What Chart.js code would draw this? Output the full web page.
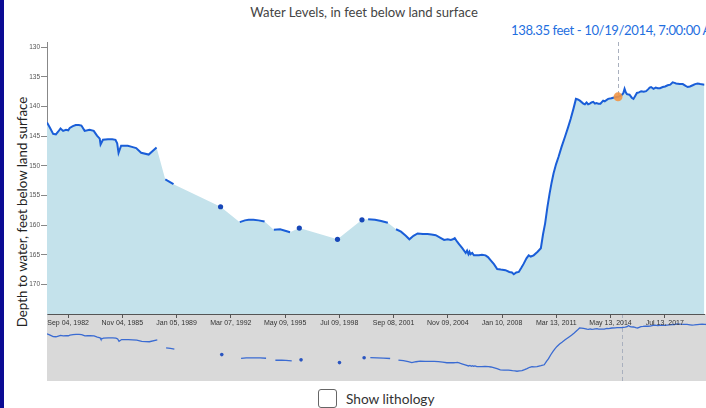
<!DOCTYPE html>
<html>
<head>
<meta charset="utf-8">
<script src="https://cdn.jsdelivr.net/npm/chart.js@4.4.1/dist/chart.umd.min.js"></script>
<style>
  html, body { margin: 0; padding: 0; width: 706px; height: 408px; overflow: hidden; background: #fff; }
  #wrap { position: relative; width: 706px; height: 408px; overflow: hidden; }
  #edge { position: absolute; left: 0; top: 0; width: 4px; height: 408px; background: #0b0b94; z-index: 5; }
  #title { position: absolute; left: 0; top: 4px; width: 728px; text-align: center; font: 13.1px Lato, sans-serif; color: #444; }
  #readout { position: absolute; left: 511px; top: 22px; white-space: nowrap; font: 13.1px Lato, sans-serif; letter-spacing: -0.4px; color: #1f6fe0; }
  #ytitle { position: absolute; left: -128px; top: 202px; width: 300px; text-align: center; font: 13.3px Lato, sans-serif; color: #222;
            transform: rotate(-90deg); transform-origin: 150px 10px; line-height: 20px; }
  #main { position: absolute; left: 0; top: 0; z-index: 2; }
  #nav { position: absolute; left: 0; top: 314px; z-index: 1; }
  #box { position: absolute; left: 318px; top: 389px; width: 17px; height: 17px; border: 1px solid #666; border-radius: 3px; background: #fff; }
  #lith { position: absolute; left: 346px; top: 390px; font: 13.7px Lato, sans-serif; color: #333; }
</style>
</head>
<body>
<div id="wrap">
  <div id="edge"></div>
  <div id="title">Water Levels, in feet below land surface</div>
  <div id="readout"></div>
  <div id="ytitle">Depth to water, feet below land surface</div>
  <canvas id="main" width="709" height="334"></canvas>
  <canvas id="nav" width="709" height="67"></canvas>
  <div id="box"></div>
  <div id="lith">Show lithology</div>
</div>
<script>
// decimal years and depths (feet below land surface); null = gap in record
const years = [
  1981.44, 1981.62, 1981.80, 1981.96, 1982.10, 1982.23, 1982.38, 1982.55, 1982.68, 1982.77,
  1982.95, 1983.12, 1983.30, 1983.45, 1983.64, 1983.80, 1983.93, 1984.17, 1984.36, 1984.52,
  1984.57, 1984.71, 1985.00, 1985.25, 1985.44, 1985.54, 1985.62, 1985.77, 1986.16, 1986.40,
  1986.65, 1986.94, 1987.38, 1987.84, 1988.10,
  1988.35, 1988.60, 1988.83, 1990.00,
  1991.58, 1992.00,
  1992.70, 1993.00, 1993.22, 1993.50, 1993.80, 1994.15, 1994.40,
  1994.69, 1995.06, 1995.30, 1995.64, 1995.90,
  1996.18, 1997.00,
  1998.41, 1999.00,
  1999.84, 2000.00,
  2000.20, 2000.60, 2000.96, 2001.35, 2001.60,
  2001.83, 2002.12, 2002.40, 2002.61, 2002.85, 2003.09, 2003.40, 2003.67, 2003.90, 2004.15,
  2004.40, 2004.64, 2004.85, 2005.03, 2005.15, 2005.26, 2005.40, 2005.51, 2005.70, 2005.90,
  2005.98, 2006.06, 2006.12, 2006.18, 2006.28, 2006.38, 2006.67, 2006.85, 2007.06, 2007.20,
  2007.35, 2007.55, 2007.74, 2007.95, 2008.22, 2008.45, 2008.60, 2008.71, 2008.85, 2009.00,
  2009.15, 2009.29, 2009.45, 2009.58, 2009.70, 2009.87, 2010.10, 2010.29, 2010.42, 2010.54,
  2010.67, 2010.80, 2010.92, 2011.03, 2011.18, 2011.32, 2011.50, 2011.71, 2011.87, 2012.03,
  2012.20, 2012.34, 2012.45, 2012.57, 2012.77, 2012.86, 2012.96, 2013.05, 2013.15, 2013.25,
  2013.35, 2013.45, 2013.54, 2013.65, 2013.77, 2013.93, 2014.02, 2014.22, 2014.41, 2014.51,
  2014.80, 2014.99, 2015.10, 2015.18, 2015.25, 2015.32, 2015.47, 2015.60, 2015.70, 2015.80,
  2015.90, 2016.02, 2016.15, 2016.30, 2016.44, 2016.55, 2016.65, 2016.73, 2016.87, 2017.00,
  2017.12, 2017.25, 2017.41, 2017.55, 2017.70, 2017.85, 2017.99, 2018.10, 2018.19, 2018.40,
  2018.58, 2018.75, 2018.87, 2019.00, 2019.16, 2019.30, 2019.45, 2019.60, 2019.85
];
const depths = [
  142.7, 143.6, 144.6, 144.7, 144.2, 143.7, 144.1, 143.9, 144.0, 143.6,
  143.3, 143.1, 143.1, 143.2, 144.1, 144.0, 143.9, 144.1, 144.9, 145.4,
  146.4, 145.6, 145.5, 145.5, 145.6, 146.2, 147.8, 146.6, 146.6, 146.8,
  147.0, 147.8, 148.1, 146.9, null,
  152.3, 152.7, 153.1, null,
  156.9, null,
  159.5, 159.2, 159.1, 159.1, 159.2, 159.4, null,
  160.8, 160.7, 160.9, 161.2, null,
  160.5, null,
  162.4, null,
  159.1, null,
  159.0, 159.1, 159.3, 159.6, null,
  160.7, 161.1, 161.8, 162.4, 161.8, 161.4, 161.5, 161.5, 161.6, 161.7,
  162.1, 162.5, 162.4, 162.5, 162.4, 162.2, 162.8, 163.2, 163.9, 164.7,
  164.3, 164.9, 164.5, 164.9, 164.7, 165.1, 165.1, 165.0, 165.1, 165.4,
  165.9, 166.6, 167.4, 167.5, 167.6, 167.9, 168.0, 168.3, 168.0, 167.9,
  167.2, 166.5, 165.6, 165.1, 165.3, 165.1, 164.5, 163.9, 161.5, 159.7,
  157.0, 154.7, 152.8, 151.3, 149.7, 148.5, 146.8, 145.0, 143.6, 142.1,
  140.3, 138.7, 138.8, 139.0, 139.5, 139.6, 139.3, 139.6, 139.5, 139.3,
  139.2, 139.5, 139.4, 139.5, 139.5, 139.0, 139.1, 138.7, 138.6, 138.5,
  138.35, 138.1, 137.8, 137.0, 137.6, 137.9, 138.0, 138.5, 138.7, 138.2,
  137.7, 137.6, 137.4, 137.5, 137.4, 137.1, 136.8, 136.7, 137.0, 136.8,
  136.9, 136.9, 136.7, 136.6, 136.4, 136.3, 135.9, 136.0, 136.1, 136.2,
  136.2, 136.5, 136.7, 136.6, 136.4, 136.2, 136.1, 136.2, 136.3
];
const yTicks = [130, 135, 140, 145, 150, 155, 160, 165, 170];
const tickLabels = [
  'Sep 04, 1982', 'Nov 04, 1985', 'Jan 05, 1989', 'Mar 07, 1992', 'May 09, 1995', 'Jul 09, 1998',
  'Sep 08, 2001', 'Nov 09, 2004', 'Jan 10, 2008', 'Mar 13, 2011', 'May 13, 2014', 'Jul 13, 2017'
];
const hoverTime = '2014-10-19T07:00:00';
const hoverDepth = 138.35;

const X_MIN = 1981.44, X_MAX = 2019.85;
const Y_MIN = 129.1, Y_MAX = 175;

// date -> decimal year
function decimalYear(d) {
  const y = d.getFullYear();
  const start = new Date(y, 0, 1).getTime();
  const end = new Date(y + 1, 0, 1).getTime();
  return y + (d.getTime() - start) / (end - start);
}
const tickYears = tickLabels.map(s => decimalYear(new Date(s)));
const hoverYear = decimalYear(new Date(hoverTime));

const points = years.map((x, i) => ({ x: x, y: depths[i] }));
const filled = points.filter(p => p.y !== null);
const isolated = i => depths[i] != null && depths[i - 1] == null && depths[i + 1] == null;

document.getElementById('readout').textContent =
  hoverDepth.toFixed(2) + ' feet - ' + new Date(hoverTime).toLocaleString('en-US');

// dashed hover line + optional gray background
const hoverLine = {
  id: 'hoverLine',
  beforeDraw(chart, args, opts) {
    if (!opts.bg) return;
    const a = chart.chartArea, ctx = chart.ctx;
    ctx.save();
    ctx.fillStyle = opts.bg;
    ctx.fillRect(a.left, 0, a.right - a.left, chart.height);
    ctx.restore();
  },
  beforeDatasetsDraw(chart) {
    const a = chart.chartArea, ctx = chart.ctx;
    const px = Math.round(chart.scales.x.getPixelForValue(hoverYear)) + 0.5;
    ctx.save();
    ctx.strokeStyle = '#a9b0be';
    ctx.lineWidth = 1;
    ctx.setLineDash([4, 3]);
    ctx.beginPath();
    ctx.moveTo(px, a.top);
    ctx.lineTo(px, a.bottom);
    ctx.stroke();
    ctx.restore();
  }
};

Chart.defaults.font.family = '"Liberation Sans", Arial, sans-serif';

new Chart(document.getElementById('main'), {
  type: 'line',
  data: {
    datasets: [
      {
        data: [{ x: hoverYear, y: hoverDepth }],
        showLine: false,
        pointRadius: 4.5,
        pointBackgroundColor: 'rgba(242,150,70,0.9)',
        pointBorderWidth: 0,
        order: 1
      },
      {
        data: points,
        borderColor: '#1a5ed8',
        borderWidth: 2,
        tension: 0,
        spanGaps: false,
        fill: false,
        pointRadius: ctx => isolated(ctx.dataIndex) ? 2.6 : 0,
        pointBackgroundColor: '#1747b8',
        pointBorderWidth: 0,
        order: 2
      },
      {
        data: filled,
        borderWidth: 0,
        pointRadius: 0,
        backgroundColor: 'rgb(196,226,235)',
        fill: 'start',
        order: 3
      }
    ]
  },
  options: {
    responsive: false,
    animation: false,
    events: [],
    layout: { padding: { top: 42, left: 0, right: 0, bottom: 0 } },
    plugins: { legend: { display: false }, tooltip: { enabled: false }, hoverLine: {} },
    scales: {
      x: {
        type: 'linear',
        min: X_MIN,
        max: X_MAX,
        afterBuildTicks: s => { s.ticks = tickYears.map(v => ({ value: v })); },
        afterFit: s => { s.height = 20; },
        ticks: {
          autoSkip: false,
          maxRotation: 0,
          padding: 1,
          color: '#333',
          font: { size: 7 },
          callback: (v, i) => tickLabels[i]
        },
        grid: { drawOnChartArea: false, drawTicks: true, tickLength: 4, color: '#555' },
        border: { color: '#555', width: 1 }
      },
      y: {
        type: 'linear',
        reverse: true,
        min: Y_MIN,
        max: Y_MAX,
        afterBuildTicks: s => { s.ticks = yTicks.map(v => ({ value: v })); },
        afterFit: s => { s.width = 47; },
        ticks: { padding: 1, color: '#555', font: { size: 6.5 } },
        grid: { drawOnChartArea: false, drawTicks: true, tickLength: 6, color: '#888' },
        border: { color: '#888', width: 1 }
      }
    }
  },
  plugins: [hoverLine]
});

new Chart(document.getElementById('nav'), {
  type: 'line',
  data: {
    datasets: [
      {
        data: points,
        borderColor: '#3a6bd2',
        borderWidth: 1.3,
        tension: 0,
        spanGaps: false,
        fill: false,
        pointRadius: ctx => isolated(ctx.dataIndex) ? 1.8 : 0,
        pointBackgroundColor: '#2a55c0',
        pointBorderWidth: 0
      }
    ]
  },
  options: {
    responsive: false,
    animation: false,
    events: [],
    layout: { padding: { top: 0, left: 47, right: 0, bottom: 0 } },
    plugins: { legend: { display: false }, tooltip: { enabled: false }, hoverLine: { bg: '#d9d9d9' } },
    scales: {
      x: { type: 'linear', display: false, min: X_MIN, max: X_MAX },
      y: { type: 'linear', display: false, reverse: true, min: Y_MIN, max: Y_MAX }
    }
  },
  plugins: [hoverLine]
});
</script>
</body>
</html>
